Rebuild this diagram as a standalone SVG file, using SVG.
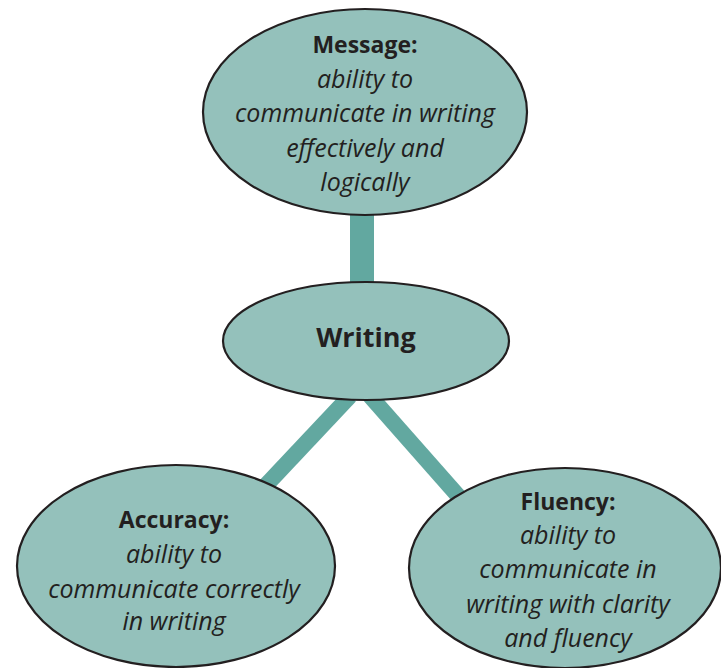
<svg xmlns="http://www.w3.org/2000/svg" width="721" height="668" viewBox="0 0 721 668">
<style>
.node{fill:#94C1BB;stroke:#231F20;stroke-width:2.2}
.conn{stroke:#62A8A0;fill:none}
text{font-family:"Open Sans","Liberation Sans",sans-serif;fill:#231F20;text-anchor:middle}
.t{font-weight:bold;font-size:23px}
.d{font-style:italic;font-size:25px}
.w{font-weight:bold;font-size:27px}
</style>
<rect width="721" height="668" fill="#fff"/>
<g id="connectors">
<line class="conn" x1="362" y1="200" x2="362" y2="300" stroke-width="24"/>
<line class="conn" x1="350" y1="396" x2="190" y2="566" stroke-width="16"/>
<line class="conn" x1="370" y1="396" x2="520" y2="566" stroke-width="16"/>
</g>
<g id="message">
<ellipse class="node" cx="365" cy="112" rx="162" ry="103"/>
<text class="t" x="365" y="53">Message:</text>
<text class="d" x="365" y="88">ability to</text>
<text class="d" x="365" y="122">communicate in writing</text>
<text class="d" x="365" y="157">effectively and</text>
<text class="d" x="365" y="191">logically</text>
</g>
<g id="writing">
<ellipse class="node" cx="366" cy="341" rx="143" ry="59"/>
<text class="w" x="366" y="347">Writing</text>
</g>
<g id="accuracy">
<ellipse class="node" cx="176" cy="566" rx="159" ry="101"/>
<text class="t" x="174" y="528">Accuracy:</text>
<text class="d" x="174" y="563">ability to</text>
<text class="d" x="174" y="598">communicate correctly</text>
<text class="d" x="174" y="630">in writing</text>
</g>
<g id="fluency">
<ellipse class="node" cx="565" cy="568" rx="156" ry="100"/>
<text class="t" x="568" y="510">Fluency:</text>
<text class="d" x="568" y="544">ability to</text>
<text class="d" x="568" y="578">communicate in</text>
<text class="d" x="568" y="613">writing with clarity</text>
<text class="d" x="568" y="647">and fluency</text>
</g>
</svg>
